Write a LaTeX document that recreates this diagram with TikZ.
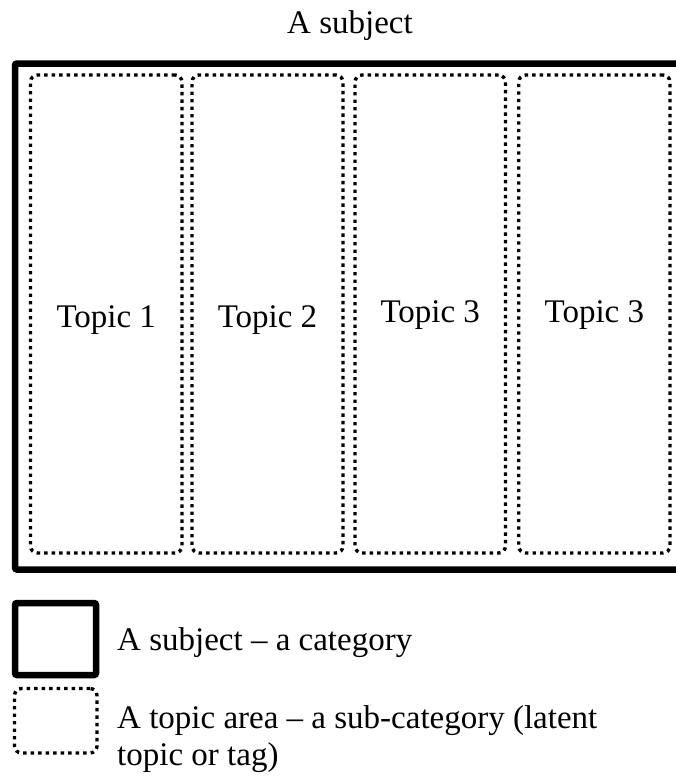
\documentclass[tikz,border=0pt]{standalone}
\usepackage{fontspec}
\setmainfont{Liberation Serif}

\begin{document}
\begin{tikzpicture}[x=1pt, y=-1pt, font=\fontsize{33}{37}\selectfont, subject/.style = {draw, line width=6.5pt, rounded corners=2pt, inner sep=0pt}, topic/.style = {draw, line width=3.4pt, dash pattern=on 3.4pt off 4.1pt, rounded corners=7pt, inner sep=0pt}, txt/.style = {inner sep=0pt, anchor=base}]
\useasboundingbox (0,0) rectangle (676,779);

% the subject and its topic areas
\node[txt] (title) at (350,33) {A subject};
\node[subject, minimum width=665, minimum height=506] (subj) at (347.5,316.5) {};
\node[topic, minimum width=151.5, minimum height=478] (t1) at (106.25,314) {};
\node[topic, minimum width=151, minimum height=478] (t2) at (267.5,314) {};
\node[topic, minimum width=150.5, minimum height=478] (t3) at (430.25,314) {};
\node[topic, minimum width=151.3, minimum height=478] (t4) at (594.35,314) {};
\node[txt, yshift=-13pt] at (t1.center) {Topic 1};
\node[txt, yshift=-13pt] at (t2.center) {Topic 2};
\node[txt, yshift=-8pt] at (t3.center) {Topic 3};
\node[txt, yshift=-8pt] at (t4.center) {Topic 3};

% legend
\node[subject, minimum width=81, minimum height=72] (legsubj) at (55.5,639) {};
\node[topic, minimum width=82.5, minimum height=64.5] (legtopic) at (55.75,720.75) {};
\node[txt, anchor=base west] (legsubjtxt) at (117,650) {A subject -- a category};
\node[txt, anchor=base west, align=left] (legtopictxt) at (117,765) {A topic area -- a sub-category (latent\\topic or tag)};
\end{tikzpicture}
\end{document}
